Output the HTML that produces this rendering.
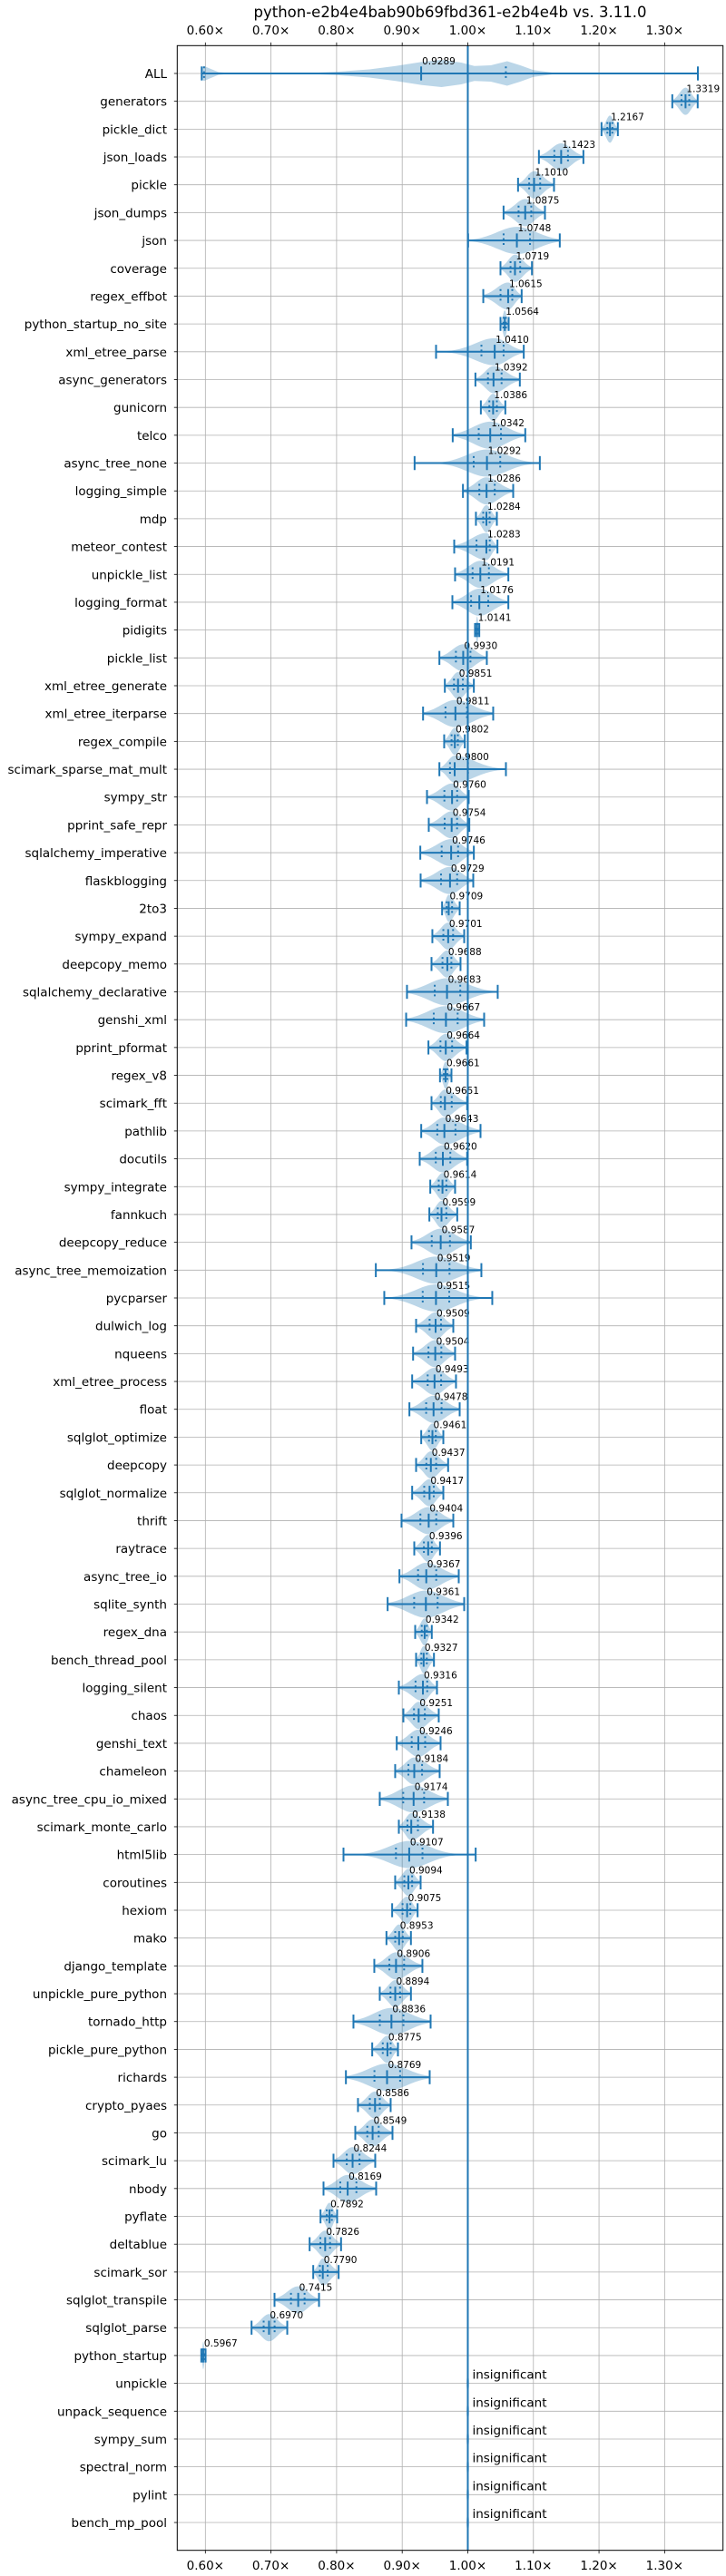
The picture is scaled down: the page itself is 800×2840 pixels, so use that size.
<!DOCTYPE html>
<html><head><meta charset="utf-8">
<style>
html,body{margin:0;padding:0;background:#fff;}
svg{display:block;font-family:"DejaVu Sans","Liberation Sans",sans-serif;}
</style></head>
<body>
<svg id="chart" width="800" height="2840" viewBox="0 0 800 2840" xmlns="http://www.w3.org/2000/svg">
<rect x="0" y="0" width="800" height="2840" fill="#fff"/>
<text x="496" y="19" font-size="16.5" text-anchor="middle" fill="#000">python-e2b4e4bab90b69fbd361-e2b4e4b vs. 3.11.0</text>
<g id="grid"></g>
<g id="marks"></g>
<g id="axes"></g>
</svg>
<script>
const benchmarks = ["ALL","generators","pickle_dict","json_loads","pickle","json_dumps","json","coverage","regex_effbot","python_startup_no_site","xml_etree_parse","async_generators","gunicorn","telco","async_tree_none","logging_simple","mdp","meteor_contest","unpickle_list","logging_format","pidigits","pickle_list","xml_etree_generate","xml_etree_iterparse","regex_compile","scimark_sparse_mat_mult","sympy_str","pprint_safe_repr","sqlalchemy_imperative","flaskblogging","2to3","sympy_expand","deepcopy_memo","sqlalchemy_declarative","genshi_xml","pprint_pformat","regex_v8","scimark_fft","pathlib","docutils","sympy_integrate","fannkuch","deepcopy_reduce","async_tree_memoization","pycparser","dulwich_log","nqueens","xml_etree_process","float","sqlglot_optimize","deepcopy","sqlglot_normalize","thrift","raytrace","async_tree_io","sqlite_synth","regex_dna","bench_thread_pool","logging_silent","chaos","genshi_text","chameleon","async_tree_cpu_io_mixed","scimark_monte_carlo","html5lib","coroutines","hexiom","mako","django_template","unpickle_pure_python","tornado_http","pickle_pure_python","richards","crypto_pyaes","go","scimark_lu","nbody","pyflate","deltablue","scimark_sor","sqlglot_transpile","sqlglot_parse","python_startup","unpickle","unpack_sequence","sympy_sum","spectral_norm","pylint","bench_mp_pool"];
const medians = [0.9289,1.3319,1.2167,1.1423,1.1010,1.0875,1.0748,1.0719,1.0615,1.0564,1.0410,1.0392,1.0386,1.0342,1.0292,1.0286,1.0284,1.0283,1.0191,1.0176,1.0141,0.9930,0.9851,0.9811,0.9802,0.9800,0.9760,0.9754,0.9746,0.9729,0.9709,0.9701,0.9688,0.9683,0.9667,0.9664,0.9661,0.9651,0.9643,0.9620,0.9614,0.9599,0.9587,0.9519,0.9515,0.9509,0.9504,0.9493,0.9478,0.9461,0.9437,0.9417,0.9404,0.9396,0.9367,0.9361,0.9342,0.9327,0.9316,0.9251,0.9246,0.9184,0.9174,0.9138,0.9107,0.9094,0.9075,0.8953,0.8906,0.8894,0.8836,0.8775,0.8769,0.8586,0.8549,0.8244,0.8169,0.7892,0.7826,0.7790,0.7415,0.6970,0.5967,null,null,null,null,null,null];
const mins = [0.5944,1.3117,1.2038,1.1084,1.0766,1.0545,1.0005,1.0498,1.0236,1.0498,0.9516,1.0116,1.0199,0.977,0.9189,0.9926,1.0124,0.9793,0.9806,0.9765,1.011,0.9567,0.965,0.9318,0.964,0.9567,0.9378,0.9405,0.9276,0.9281,0.9608,0.946,0.9447,0.9073,0.906,0.94,0.9576,0.9447,0.929,0.9267,0.9428,0.9414,0.9142,0.8598,0.8727,0.9212,0.9166,0.9152,0.911,0.929,0.9212,0.9152,0.899,0.9184,0.8958,0.8778,0.9198,0.9212,0.8949,0.9018,0.8917,0.8893,0.8658,0.8949,0.8105,0.8893,0.8847,0.876,0.8575,0.8658,0.8257,0.8543,0.8142,0.8326,0.8285,0.7953,0.7801,0.7755,0.7589,0.7644,0.7054,0.6704,0.5938,null,null,null,null,null,null];
const maxs = [1.3507,1.3504,1.2287,1.1762,1.1314,1.1176,1.1402,1.0978,1.0821,1.0623,1.0853,1.0793,1.0572,1.0876,1.1098,1.0692,1.0443,1.0452,1.0618,1.0618,1.0175,1.029,1.0092,1.0387,0.9954,1.0581,1.0014,1.0023,1.0092,1.0083,0.9876,0.9945,0.9889,1.0456,1.0249,0.998,0.9751,0.999,1.0194,0.999,0.9806,0.9839,1.0046,1.0207,1.0373,0.9779,0.9806,0.982,0.9876,0.9627,0.97,0.9627,0.9779,0.9576,0.9862,0.9945,0.9451,0.9484,0.953,0.9557,0.9585,0.9571,0.9696,0.947,1.012,0.9281,0.9235,0.9133,0.9308,0.9133,0.9433,0.8935,0.9419,0.8824,0.8852,0.8589,0.8603,0.8008,0.8068,0.8031,0.7732,0.7248,0.6003,null,null,null,null,null,null];
const allDensityX = [0.5944,0.598,0.605,0.62,0.64,0.70,0.76,0.80,0.85,0.89,0.93,0.96,0.99,1.01,1.035,1.06,1.08,1.10,1.13,1.18,1.25,1.3507];
const allDensityY = [0.45,0.55,0.4,0.1,0.02,0.02,0.04,0.12,0.3,0.55,0.85,1.0,0.8,0.55,0.6,0.9,0.6,0.25,0.06,0.02,0.01,0.0];
const xTicks = [0.6,0.7,0.8,0.9,1.0,1.1,1.2,1.3];
const xTickLabels = ["0.60×","0.70×","0.80×","0.90×","1.00×","1.10×","1.20×","1.30×"];

const NS = "http://www.w3.org/2000/svg";
const L = 195.3, R = 796.7, T = 50.3, B = 2811.7;
const xMin = 0.5571, xMax = 1.389;
function X(v){ return L + (v - xMin) / (xMax - xMin) * (R - L); }
const nRows = benchmarks.length;
function Y(i){ return T + (i + 1) * (B - T) / (nRows + 1); }
const BLUE = "#1f77b4", VIOL = "rgba(31,119,180,0.3)", HALF = 15, CAP = 7.7;

function mk(tag, attrs, parent){
  const e = document.createElementNS(NS, tag);
  for (const k in attrs) e.setAttribute(k, attrs[k]);
  parent.appendChild(e);
  return e;
}
const grid = document.getElementById('grid');
const marks = document.getElementById('marks');
const axes = document.getElementById('axes');

// grid lines
xTicks.forEach((t, k) => {
  const g = mk('line', {x1:X(t), x2:X(t), y1:T, y2:B, stroke:'#b0b0b0', 'stroke-width':0.8}, grid);
  
  
});
benchmarks.forEach((b, i) => {
  const g = mk('line', {x1:L, x2:R, y1:Y(i), y2:Y(i), stroke:'#b0b0b0', 'stroke-width':0.8}, grid);
  
  
});

// violins and markers
benchmarks.forEach((b, i) => {
  const y = Y(i);
  const med = medians[i];
  if (med === null) {
    const v = mk('ellipse', {cx:X(1.0), cy:y, rx:1.6, ry:8, fill:VIOL}, marks);
    
    
    const t = mk('text', {x:X(1.0)+5, y:y-5, 'font-size':13.5, fill:'#000'}, marks);
    t.textContent = 'insignificant';
    
    
    return;
  }
  const lo = mins[i], hi = maxs[i];
  let top = [], bot = [];
  let q1, q3;
  if (i === 0) {
    for (let k = 0; k < allDensityX.length; k++) {
      top.push([X(allDensityX[k]), y - allDensityY[k]*HALF]);
      bot.push([X(allDensityX[k]), y + allDensityY[k]*HALF]);
    }
    q1 = 0.598; q3 = 1.058;
  } else {
    const sl = Math.min((med - lo) / 2.2, 0.03), sr = Math.min((hi - med) / 2.2, 0.03);
    const N = 40;
    for (let k = 0; k <= N; k++) {
      const v = lo + (hi - lo) * k / N;
      const s = v < med ? sl : sr;
      const d = s > 0 ? Math.exp(-0.5 * Math.pow((v - med) / s, 2)) : 1;
      top.push([X(v), y - d*HALF]);
      bot.push([X(v), y + d*HALF]);
    }
    q1 = med - 0.674*sl; q3 = med + 0.674*sr;
  }
  const pts = top.concat(bot.reverse()).map(p => p[0].toFixed(2)+','+p[1].toFixed(2)).join(' ');
  const vp = mk('polygon', {points:pts, fill:VIOL}, marks);
  
  
  const rl = mk('line', {x1:X(lo), x2:X(hi), y1:y, y2:y, stroke:BLUE, 'stroke-width':2}, marks);
  
  
  [lo, hi, med].forEach((v, k) => {
    const c = mk('line', {x1:X(v), x2:X(v), y1:y-CAP, y2:y+CAP, stroke:BLUE, 'stroke-width':2}, marks);
    
    
  });
  [q1, q3].forEach(v => {
    const q = mk('line', {x1:X(v), x2:X(v), y1:y-CAP, y2:y+CAP, stroke:BLUE, 'stroke-width':2, 'stroke-dasharray':'2,3.3'}, marks);
    
    
  });
  const t = mk('text', {x:X(med)+1, y:y-10, 'font-size':10.5, fill:'#000'}, marks);
  t.textContent = med.toFixed(4);
  
  
});

// baseline at 1.00
const base = mk('line', {x1:X(1.0), x2:X(1.0), y1:T, y2:B, stroke:BLUE, 'stroke-width':2}, marks);



// frame
const fr = mk('rect', {x:L, y:T, width:R-L, height:B-T, fill:'none', stroke:'#000', 'stroke-width':1}, axes);



// x ticks top and bottom
xTicks.forEach((t, k) => {
  [[T, -3.5, 38], [B, 3.5, 2833]].forEach(([yy, d, ly]) => {
    const tk = mk('line', {x1:X(t), x2:X(t), y1:yy, y2:yy+d, stroke:'#000', 'stroke-width':0.8}, axes);
    
    
    const lb = mk('text', {x:X(t), y:ly, 'font-size':13.5, 'text-anchor':'middle', fill:'#000'}, axes);
    lb.textContent = xTickLabels[k];
    
    
  });
});

// y ticks
benchmarks.forEach((b, i) => {
  const tk = mk('line', {x1:L-3.5, x2:L, y1:Y(i), y2:Y(i), stroke:'#000', 'stroke-width':0.8}, axes);
  
  
  const lb = mk('text', {x:184, y:Y(i)+5, 'font-size':13.5, 'text-anchor':'end', fill:'#000'}, axes);
  lb.textContent = b;
  
  
});
</script>
</body></html>
